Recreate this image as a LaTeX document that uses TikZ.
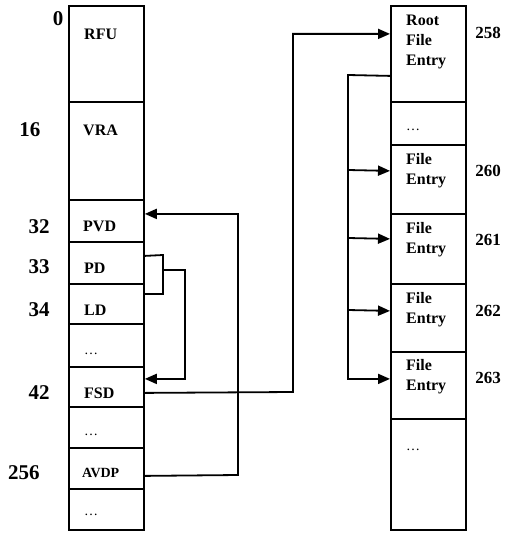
\documentclass[tikz,border=0pt]{standalone}
\usepackage{fontspec}
\setmainfont{Liberation Serif}
\usetikzlibrary{arrows.meta}
\begin{document}
\begin{tikzpicture}[x=1pt,y=-1pt,
  cell/.style={draw, line width=1.8pt, rectangle, minimum width=75pt, inner sep=0pt, anchor=north west},
  ctext/.style={anchor=west, inner sep=0pt, font=\fontsize{16}{20}\selectfont\bfseries, align=left},
  dots/.style={anchor=west, inner sep=0pt, font=\fontsize{14}{15}\selectfont},
  lnum/.style={inner sep=0pt, font=\fontsize{21}{22}\selectfont\bfseries},
  rnum/.style={inner sep=0pt, font=\fontsize{17}{18}\selectfont\bfseries},
  conn/.style={line width=1.8pt},
  arr/.style={line width=1.8pt, -{Triangle[length=12pt,width=10pt]}}]
\useasboundingbox (0,0) rectangle (511,535);
% left column
\node[cell, minimum height=96pt] (rfu) at (68,5) {};
\node[cell, minimum height=98pt] (vra) at (68,101) {};
\node[cell, minimum height=42pt] (pvd) at (68,199) {};
\node[cell, minimum height=42pt] (pd) at (68,241) {};
\node[cell, minimum height=40pt] (ld) at (68,283) {};
\node[cell, minimum height=43pt] (da) at (68,323) {};
\node[cell, minimum height=40pt] (fsd) at (68,366) {};
\node[cell, minimum height=41pt] (db) at (68,406) {};
\node[cell, minimum height=41pt] (avdp) at (68,447) {};
\node[cell, minimum height=41pt] (dc) at (68,488) {};
% left texts
\node[ctext] (trfu) at (84,34) {RFU};
\node[ctext] (tvra) at (83,130) {VRA};
\node[ctext] (tpvd) at (83,226) {PVD};
\node[ctext] (tpd) at (84,268) {PD};
\node[ctext] (tld) at (84,310) {LD};
\node[dots] (tda) at (84,354) {\ldots};
\node[ctext] (tfsd) at (84,393) {FSD};
\node[dots] (tdb) at (84,435) {\ldots};
\node[ctext, font=\fontsize{14}{15}\selectfont\bfseries] (tavdp) at (82,473) {AVDP};
\node[dots] (tdc) at (84,515) {\ldots};
% left numbers
\node[lnum] (n0) at (58,19) {0};
\node[lnum] (n16) at (30,130) {16};
\node[lnum] (n32) at (39,227) {32};
\node[lnum] (n33) at (39,267) {33};
\node[lnum] (n34) at (39,310) {34};
\node[lnum] (n42) at (39,393) {42};
\node[lnum] (n256) at (24,473) {256};
% right column
\node[cell, minimum height=96pt] (root) at (390,5) {};
\node[cell, minimum height=43pt] (dr) at (390,101) {};
\node[cell, minimum height=69pt] (f260) at (390,144) {};
\node[cell, minimum height=70pt] (f261) at (390,213) {};
\node[cell, minimum height=68pt] (f262) at (390,283) {};
\node[cell, minimum height=67pt] (f263) at (390,351) {};
\node[cell, minimum height=111pt] (dr2) at (390,418) {};
% right texts
\node[ctext, anchor=north west] (troot) at (406,15) {Root\\File\\Entry};
\node[dots] (tdr) at (406,130) {\ldots};
\node[ctext, anchor=north west] (t260) at (406,153) {File\\Entry};
\node[ctext, anchor=north west] (t261) at (406,222) {File\\Entry};
\node[ctext, anchor=north west] (t262) at (406,292) {File\\Entry};
\node[ctext, anchor=north west] (t263) at (406,359) {File\\Entry};
\node[dots] (tdr2) at (406,450) {\ldots};
% right numbers
\node[rnum] (n258) at (488,33) {258};
\node[rnum] (n260) at (488,171) {260};
\node[rnum] (n261) at (488,240) {261};
\node[rnum] (n262) at (488,311) {262};
\node[rnum] (n263) at (488,378) {263};
% connectors
\coordinate (ca) at (238,475);
\draw[arr] ([yshift=-7.5pt]avdp.east) -- (ca) |- ([yshift=7pt]pvd.east);
\coordinate (cb) at (163,255);
\coordinate (cm) at (163,270);
\coordinate (cc) at (185,270);
\draw[conn] ([yshift=7pt]pd.east) -- (cb) |- ([yshift=10pt]ld.east);
\draw[arr] (cm) -- (cc) |- ([yshift=8pt]fsd.east);
\coordinate (cf) at (293,392);
\draw[arr] ([yshift=-6pt]fsd.east) -- (cf) |- ([yshift=20pt]root.west);
\coordinate (cr) at (348,75);
\draw[arr] ([yshift=-22pt]root.west) -- (cr) |- ([yshift=6.5pt]f263.west);
\coordinate (r260) at (348,170);
\coordinate (r261) at (348,238);
\coordinate (r262) at (348,310);
\draw[arr] (r260) -- ([yshift=8.5pt]f260.west);
\draw[arr] (r261) -- ([yshift=10pt]f261.west);
\draw[arr] (r262) -- ([yshift=7pt]f262.west);
\end{tikzpicture}
\end{document}
